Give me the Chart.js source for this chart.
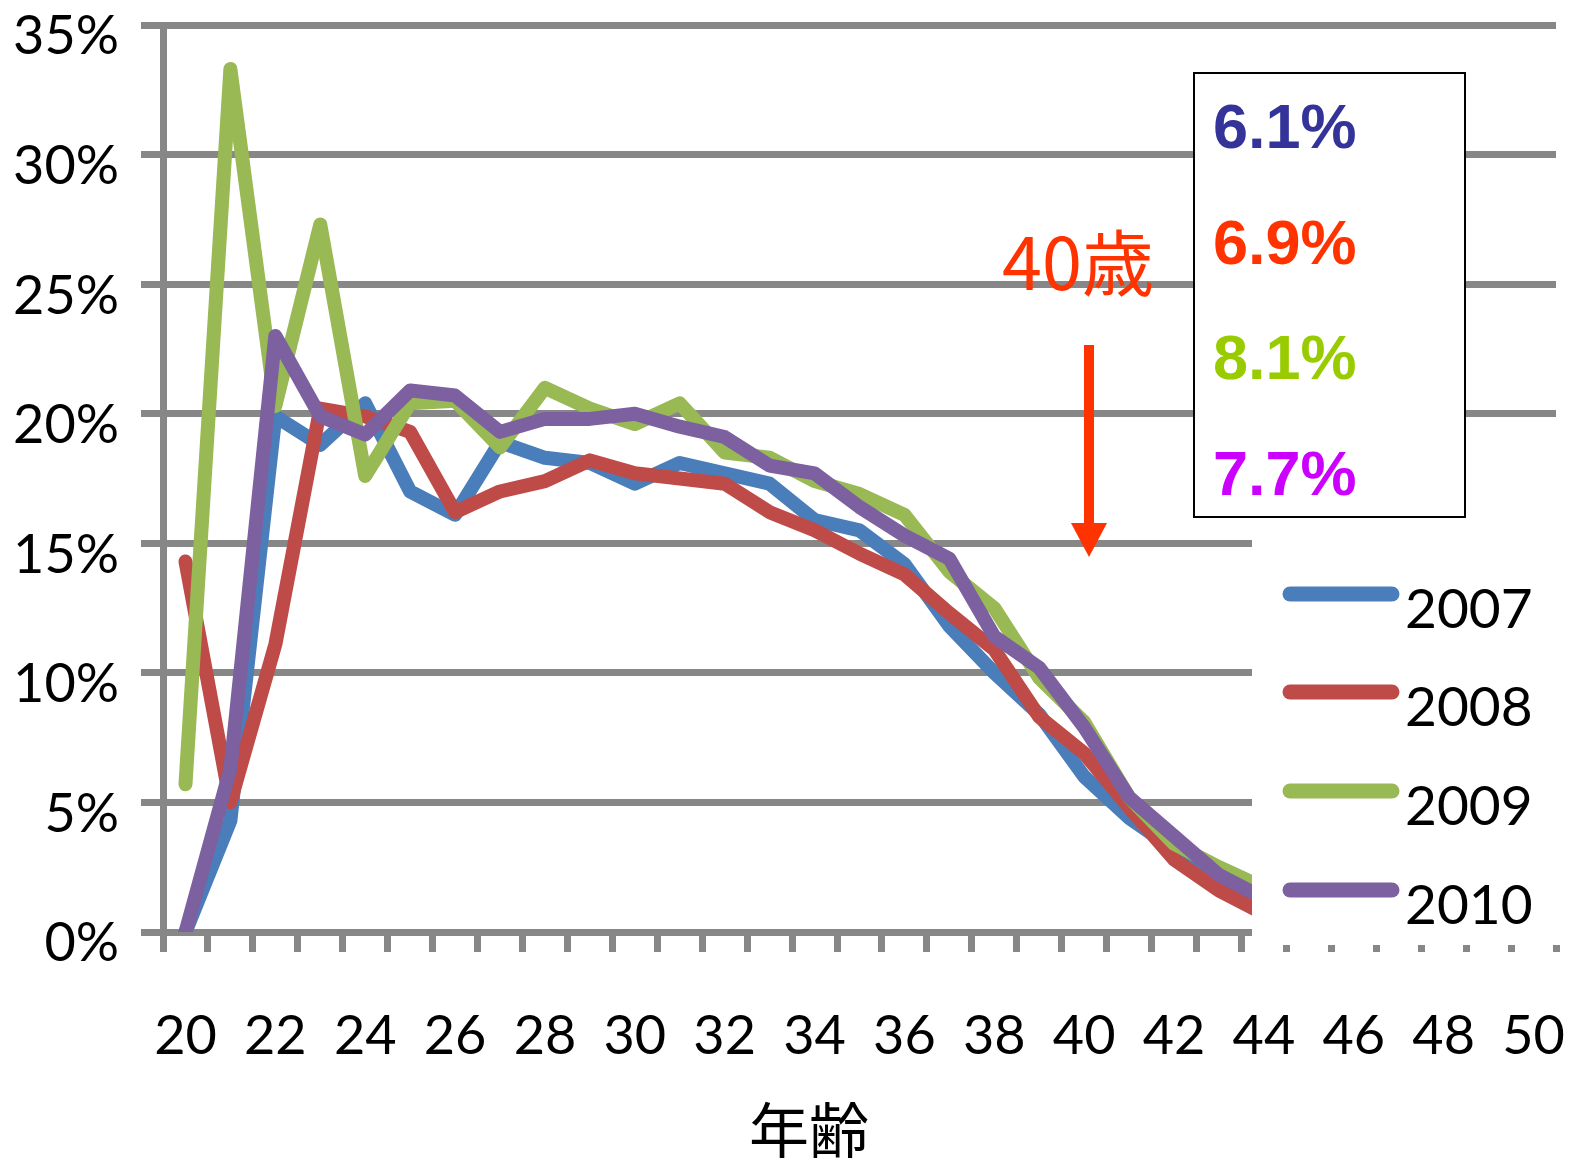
<!DOCTYPE html>
<html>
<head>
<meta charset="utf-8">
<script src="https://cdn.jsdelivr.net/npm/chart.js@4.4.0/dist/chart.umd.min.js"></script>
<style>
  body { margin: 0; background: #fff; }
  canvas { display: block; }
</style>
</head>
<body>
<canvas id="chart" width="1576" height="1161"></canvas>
<script>
// ages on the x axis (every 2nd one gets a label)
const ages = ['20','21','22','23','24','25','26','27','28','29','30','31','32','33','34','35',
  '36','37','38','39','40','41','42','43','44','45','46','47','48','49','50'];

// percent per age, 20..44
const v2007 = [0, 4.3, 19.9, 18.8, 20.4, 17.0, 16.1, 18.9, 18.3, 18.1, 17.3, 18.1, 17.7, 17.3, 15.9, 15.5,
  14.2, 11.8, 10.0, 8.4, 6.0, 4.4, 3.2, 2.1, 1.1];
const v2008 = [14.3, 5.0, 11.1, 20.2, 19.9, 19.3, 16.2, 17.0, 17.4, 18.2, 17.7, 17.5, 17.3, 16.2, 15.5, 14.6,
  13.8, 12.3, 10.9, 8.3, 6.9, 4.8, 2.8, 1.6, 0.7];
const v2009 = [5.7, 33.3, 20.3, 27.3, 17.6, 20.4, 20.5, 18.7, 21.0, 20.2, 19.6, 20.4, 18.5, 18.3, 17.4, 16.9,
  16.1, 13.9, 12.5, 9.8, 8.1, 5.2, 3.4, 2.5, 1.7];
const v2010 = [0, 6.3, 23.0, 19.9, 19.2, 20.9, 20.7, 19.3, 19.8, 19.8, 20.0, 19.5, 19.1, 18.0, 17.7, 16.4,
  15.3, 14.4, 11.4, 10.2, 7.9, 5.2, 3.7, 2.2, 1.3];

const seriesNames = ['2007', '2008', '2009', '2010'];
const seriesColors = ['#4A7EBB', '#BE4B48', '#98B954', '#7D60A0'];

// numbers in the box at the top right
const boxTexts = ['6.1%', '6.9%', '8.1%', '7.7%'];
const boxColors = ['#333399', '#FF3300', '#99CC00', '#CC00FF'];

const gridGray = '#878787';
const tickFont = { family: 'Lato', size: 54 };

function makeSet(i, values) {
  return {
    label: seriesNames[i],
    data: values,
    borderColor: seriesColors[i],
    backgroundColor: seriesColors[i],
    borderWidth: 14,
    pointRadius: 0,
    borderJoinStyle: 'round',
    borderCapStyle: 'round',
    tension: 0,
    order: 4 - i
  };
}

// legend, note box, arrow and axis title
const overlay = {
  id: 'overlay',
  afterDatasetsDraw(chart) {
    const ctx = chart.ctx;
    ctx.save();

    // legend panel covers the right bottom of the plot
    ctx.fillStyle = '#fff';
    ctx.fillRect(1252, 532, 324, 413);
    const rowY = [594, 692, 791, 890];
    chart.data.datasets.forEach((ds, i) => {
      ctx.strokeStyle = ds.borderColor;
      ctx.lineWidth = 15;
      ctx.lineCap = 'round';
      ctx.beginPath();
      ctx.moveTo(1290, rowY[i]);
      ctx.lineTo(1392, rowY[i]);
      ctx.stroke();
      ctx.fillStyle = '#000';
      ctx.font = '55px Lato';
      ctx.textAlign = 'left';
      ctx.textBaseline = 'middle';
      ctx.fillText(ds.label, 1405, rowY[i] + 16);
    });

    // box with percentages
    ctx.fillStyle = '#fff';
    ctx.fillRect(1194, 73, 271, 444);
    ctx.strokeStyle = '#000';
    ctx.lineWidth = 2;
    ctx.strokeRect(1194, 73, 271, 444);
    ctx.font = 'bold 63px "Liberation Sans"';
    ctx.textBaseline = 'alphabetic';
    boxTexts.forEach((t, i) => {
      ctx.fillStyle = boxColors[i];
      ctx.fillText(t, 1213, 148 + i * 115.5);
    });

    // 40歳 with arrow
    ctx.fillStyle = '#FF3300';
    ctx.font = '72px "Noto Sans CJK JP"';
    ctx.textAlign = 'center';
    ctx.textBaseline = 'alphabetic';
    ctx.fillText('40歳', 1078, 290);
    ctx.fillRect(1084, 345, 10, 180);
    ctx.beginPath();
    ctx.moveTo(1071, 523);
    ctx.lineTo(1107, 523);
    ctx.lineTo(1089, 557);
    ctx.closePath();
    ctx.fill();

    // x axis title
    ctx.fillStyle = '#000';
    ctx.font = '60px "Noto Sans CJK JP"';
    ctx.textBaseline = 'middle';
    ctx.fillText('年齢', 809, 1130);

    ctx.restore();
  }
};

Chart.defaults.font.family = 'Lato';
Chart.defaults.color = '#000';

new Chart(document.getElementById('chart'), {
  type: 'line',
  data: {
    labels: ages,
    datasets: [makeSet(0, v2007), makeSet(1, v2008), makeSet(2, v2009), makeSet(3, v2010)]
  },
  options: {
    responsive: false,
    animation: false,
    layout: { padding: { left: 0, right: 20, top: 25, bottom: 0 } },
    plugins: {
      legend: { display: false },
      tooltip: { enabled: false }
    },
    scales: {
      x: {
        offset: true,
        grid: {
          offset: true,
          drawOnChartArea: false,
          drawTicks: true,
          tickLength: 20,
          color: gridGray,
          lineWidth: 7
        },
        border: { display: true, color: gridGray, width: 7 },
        ticks: {
          font: tickFont,
          color: '#000',
          autoSkip: false,
          maxRotation: 0,
          padding: 52,
          callback: (val, idx) => (idx % 2 === 0 ? ages[idx] : '')
        },
        afterFit(scale) {
          scale.height = 229;
          scale.paddingLeft = 0;
          scale.paddingRight = 0;
        }
      },
      y: {
        min: 0,
        max: 35,
        grid: {
          color: gridGray,
          lineWidth: 7,
          tickLength: 22
        },
        border: { display: true, color: gridGray, width: 7 },
        ticks: {
          stepSize: 5,
          font: tickFont,
          color: '#000',
          padding: 22,
          labelOffset: 12,
          callback: v => v + '%'
        },
        afterFit(scale) {
          scale.width = 163;
          scale.paddingTop = 0;
          scale.paddingBottom = 0;
        }
      }
    }
  },
  plugins: [overlay]
});
</script>
</body>
</html>
